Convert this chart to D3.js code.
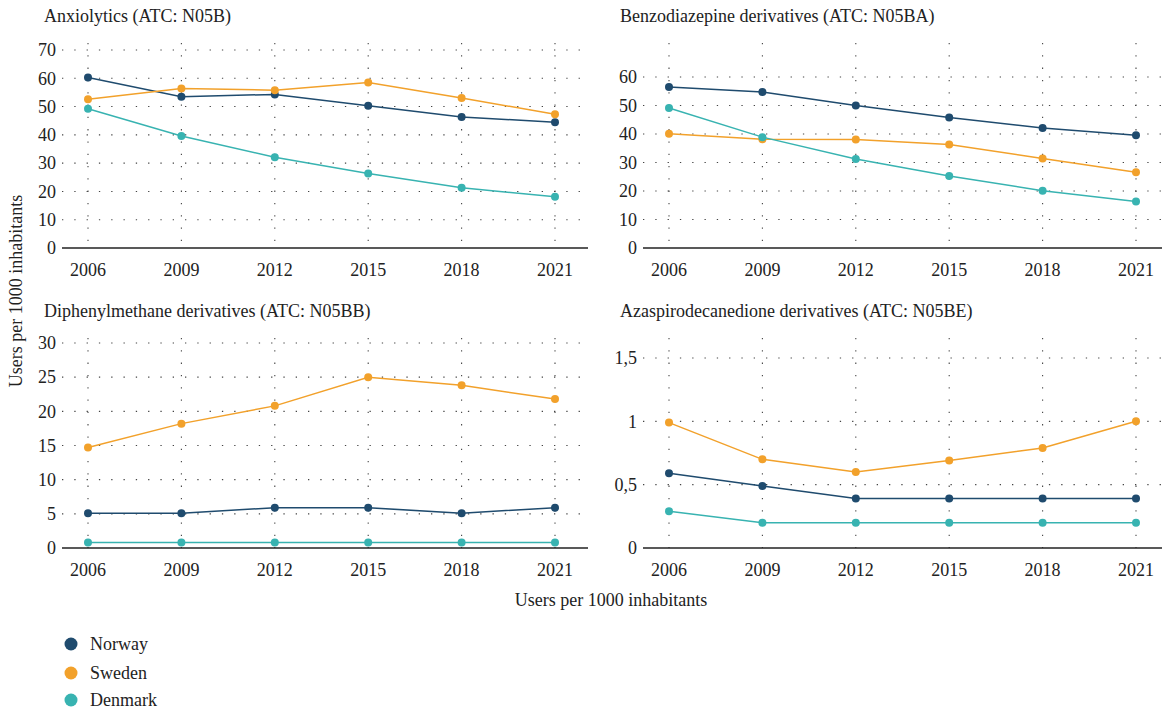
<!DOCTYPE html>
<html>
<head>
<meta charset="utf-8">
<script src="https://cdn.jsdelivr.net/npm/d3@7"></script>
<style>
  body{margin:0;background:#fff;}
  svg{display:block;}
</style>
</head>
<body>
<div id="chart"></div>
<script>
// data -- users per 1000 inhabitants
const years=[2006,2009,2012,2015,2018,2021];
const countries=["Norway","Sweden","Denmark"];
const colors={Norway:"#1f4b6e",Sweden:"#f2a12b",Denmark:"#38b3b1"};

const anxNorway=[60.3,53.5,54.3,50.3,46.3,44.5];
const anxSweden=[52.6,56.4,55.8,58.5,53.0,47.3];
const anxDenmark=[49.2,39.6,32.1,26.3,21.3,18.1];

const benzoNorway=[56.5,54.7,50.0,45.8,42.1,39.6];
const benzoSweden=[40.1,38.2,38.1,36.3,31.4,26.6];
const benzoDenmark=[49.1,38.9,31.2,25.3,20.1,16.3];

const diphNorway=[5.1,5.1,5.9,5.9,5.1,5.9];
const diphSweden=[14.7,18.2,20.8,25.0,23.8,21.8];
const diphDenmark=[0.8,0.8,0.8,0.8,0.8,0.8];

const azaNorway=[0.59,0.49,0.39,0.39,0.39,0.39];
const azaSweden=[0.99,0.70,0.60,0.69,0.79,1.0];
const azaDenmark=[0.29,0.2,0.2,0.2,0.2,0.2];

const anxTicks=[0,10,20,30,40,50,60,70];
const benzoTicks=[0,10,20,30,40,50,60];
const diphTicks=[0,5,10,15,20,25,30];
const azaTicks=[0,0.5,1,1.5];

const panels=[
  {title:"Anxiolytics (ATC: N05B)",series:{Norway:anxNorway,Sweden:anxSweden,Denmark:anxDenmark},
   ticks:anxTicks,dom:[0,70],left:62,right:588,top:43,bottom:248,y1:50,titleX:44,titleY:22},
  {title:"Benzodiazepine derivatives (ATC: N05BA)",series:{Norway:benzoNorway,Sweden:benzoSweden,Denmark:benzoDenmark},
   ticks:benzoTicks,dom:[0,60],left:643,right:1162,top:43,bottom:248,y1:77,titleX:620,titleY:22},
  {title:"Diphenylmethane derivatives (ATC: N05BB)",series:{Norway:diphNorway,Sweden:diphSweden,Denmark:diphDenmark},
   ticks:diphTicks,dom:[0,30],left:62,right:588,top:338,bottom:548,y1:343,titleX:44,titleY:317},
  {title:"Azaspirodecanedione derivatives (ATC: N05BE)",series:{Norway:azaNorway,Sweden:azaSweden,Denmark:azaDenmark},
   ticks:azaTicks,dom:[0,1.5],left:643,right:1162,top:338,bottom:548,y1:358,titleX:620,titleY:317}
];

const FONT="'Liberation Serif','Times New Roman',serif";
const FS="18px";

const svg=d3.select("#chart").append("svg").attr("width",1162).attr("height",709)
  .attr("font-family",FONT).attr("fill","#222");

const fmt=d=>String(d).replace(".",",");

panels.forEach(p=>{
  const g=svg.append("g");
  const x=d3.scalePoint().domain(years).range([p.left+26,p.left+26+467]);
  const y=d3.scaleLinear().domain(p.dom).range([p.bottom,p.y1]);

  g.append("text").attr("x",p.titleX).attr("y",p.titleY)
    .style("font-family",FONT).style("font-size",FS).text(p.title);

  // horizontal grid
  g.selectAll("line.hg").data(p.ticks.filter(t=>t>0)).join("line")
    .attr("x1",p.left).attr("x2",p.right)
    .attr("y1",d=>y(d)).attr("y2",d=>y(d))
    .attr("stroke","#444").attr("stroke-width",1.1).attr("stroke-dasharray","1.3,11");

  // vertical grid
  g.selectAll("line.vg").data(years).join("line")
    .attr("x1",d=>x(d)).attr("x2",d=>x(d))
    .attr("y1",p.top).attr("y2",p.bottom)
    .attr("stroke","#444").attr("stroke-width",1.1).attr("stroke-dasharray","1.3,11");

  // baseline
  g.append("line").attr("x1",p.left).attr("x2",p.right)
    .attr("y1",p.bottom).attr("y2",p.bottom)
    .attr("stroke","#222").attr("stroke-width",1.3);

  // y tick labels
  g.selectAll("text.yt").data(p.ticks).join("text")
    .attr("x",p.left-6).attr("y",d=>y(d)).attr("dy","0.35em")
    .attr("text-anchor","end").style("font-family",FONT).style("font-size",FS).text(fmt);

  // x tick labels
  g.selectAll("text.xt").data(years).join("text")
    .attr("x",d=>x(d)).attr("y",p.bottom+28)
    .attr("text-anchor","middle").style("font-family",FONT).style("font-size",FS).text(d=>d);

  const line=d3.line().x((d,i)=>x(years[i])).y(d=>y(d));
  countries.forEach(c=>{
    g.append("path").datum(p.series[c])
      .attr("d",line).attr("fill","none")
      .attr("stroke",colors[c]).attr("stroke-width",1.5);
    g.selectAll(null).data(p.series[c]).join("circle")
      .attr("cx",(d,i)=>x(years[i])).attr("cy",d=>y(d)).attr("r",4)
      .attr("fill",colors[c]);
  });
});

// axis titles
svg.append("text").attr("transform","translate(22,291) rotate(-90)")
  .attr("text-anchor","middle").style("font-family",FONT).style("font-size",FS).text("Users per 1000 inhabitants");
svg.append("text").attr("x",611).attr("y",606)
  .attr("text-anchor","middle").style("font-family",FONT).style("font-size",FS).text("Users per 1000 inhabitants");

// legend
const leg=svg.append("g").selectAll("g").data(countries).join("g")
  .attr("transform",(d,i)=>`translate(71,${[644,673,700][i]})`);
leg.append("circle").attr("r",6.5).attr("fill",d=>colors[d]);
leg.append("text").attr("x",19).attr("dy","0.35em").style("font-family",FONT).style("font-size",FS).text(d=>d);
</script>
</body>
</html>
